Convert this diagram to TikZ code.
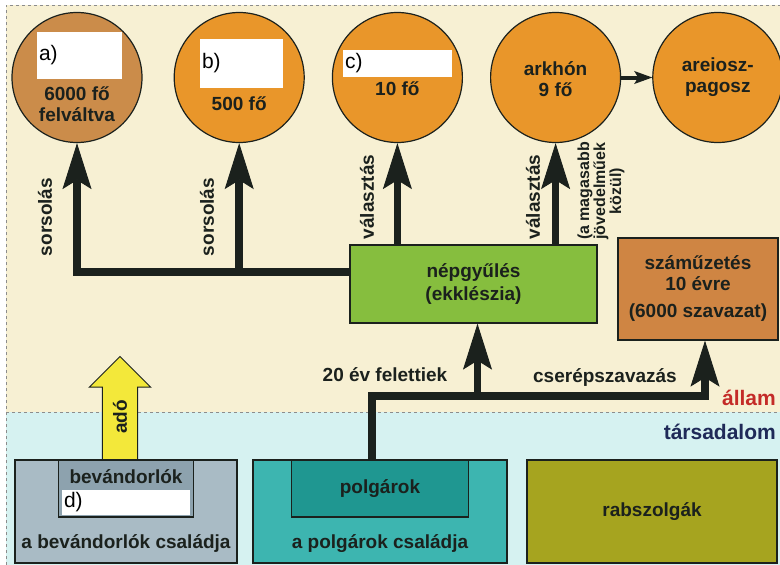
\documentclass[tikz,border=0pt]{standalone}
\usepackage{fontspec}
\setmainfont{Liberation Sans}
\usepackage{xcolor}
\usepackage{tikz}
\usetikzlibrary{positioning,calc,arrows.meta,shapes.arrows}

\definecolor{creamBg}{HTML}{F7F0D3}
\definecolor{cyanBg}{HTML}{D6F2F1}
\definecolor{circleBrown}{HTML}{CB8C4A}
\definecolor{circleOrange}{HTML}{E9962A}
\definecolor{assemblyGreen}{HTML}{86BE3E}
\definecolor{exileBrown}{HTML}{CF8543}
\definecolor{immFamily}{HTML}{A9BBC5}
\definecolor{immInner}{HTML}{8DA2AE}
\definecolor{citFamily}{HTML}{3DB5B0}
\definecolor{citInner}{HTML}{1F9791}
\definecolor{slaveOlive}{HTML}{A6A41F}
\definecolor{taxYellow}{HTML}{F3E83A}
\definecolor{arrowDark}{HTML}{1B211D}
\definecolor{stateRed}{HTML}{C42B28}
\definecolor{societyBlue}{HTML}{1F2A58}

\tikzset{
  bodyCircle/.style={
    circle,
    draw=arrowDark,
    line width=1.2pt,
    fill=circleOrange,
    minimum size=130pt,
    inner sep=0pt
  },
  boldText/.style={
    font=\bfseries\fontsize{19}{21}\selectfont,
    text=arrowDark,
    align=center,
    inner sep=0pt
  },
  answerBox/.style={
    rectangle,
    fill=white,
    inner xsep=2pt,
    inner ysep=0pt,
    align=left,
    font=\fontsize{21}{21}\selectfont
  },
  plainBox/.style={
    rectangle,
    draw=arrowDark,
    line width=1.2pt,
    inner sep=0pt
  },
  heavyArrow/.style={
    -{Stealth[length=46pt,width=29pt,inset=9pt,line width=1pt]},
    line width=7.5pt,
    draw=arrowDark
  },
  smallArrow/.style={
    -{Stealth[length=18pt,width=13pt,inset=4pt,line width=1pt]},
    line width=4pt,
    draw=arrowDark
  },
  taxArrow/.style={
    single arrow,
    draw=arrowDark,
    line width=1pt,
    fill=taxYellow,
    minimum height=103pt,
    minimum width=60pt,
    single arrow head extend=13pt,
    single arrow head indent=0pt,
    inner xsep=0pt,
    inner ysep=10pt,
    font=\bfseries\fontsize{19}{21}\selectfont,
    text=arrowDark
  },
  borderLine/.style={
    draw=black!45,
    line width=0.8pt,
    dashed
  }
}

\begin{document}
\begin{tikzpicture}[x=1pt,y=-1pt]
        \useasboundingbox (0,0) rectangle (780,565);
        \fill[creamBg] (6,5) rectangle (780,412);
        \fill[cyanBg] (6,412) rectangle (780,565);
        \draw[borderLine] (6,565) -- (6,5) -- (780,5);
        \draw[borderLine] (6,412) -- (780,412);

        \node[bodyCircle, fill=circleBrown] (heliaia) at (77,77.5) {};
        \node[bodyCircle, right=31pt of heliaia] (bule) {};
        \node[bodyCircle, right=27pt of bule] (sztrategosz) {};
        \node[bodyCircle, right=27pt of sztrategosz] (arkhon) {};
        \node[bodyCircle, right=31pt of arkhon] (areiosz) {};

        \node[answerBox, text width=81pt, minimum height=47pt] (ansA) at (79.5,55.5) {a)};
        \node[answerBox, text width=79pt, minimum height=49pt] (ansB) at (241.5,63.5) {b)};
        \node[answerBox, text width=105pt, minimum height=27pt] (ansC) at (397.5,63.5) {c)};

        \node[boldText] at ([yshift=-27pt]heliaia.center) {6000 fő\\felváltva};
        \node[boldText] at ([yshift=-26pt]bule.center) {500 fő};
        \node[boldText] at ([yshift=-11pt]sztrategosz.center) {10 fő};
        \node[boldText] at ([yshift=-2pt]arkhon.center) {arkhón\\9 fő};
        \node[boldText] at (areiosz.center) {areiosz-\\pagosz};

        \draw[smallArrow] (arkhon) -- (areiosz);

        \node[plainBox, fill=assemblyGreen, minimum width=247pt, minimum height=78pt, boldText, font=\bfseries\fontsize{19}{23}\selectfont] (nepgyules) at (473.5,284) {népgyűlés\\(ekklészia)};
        \node[plainBox, fill=exileBrown, minimum width=160pt, minimum height=102pt, boldText] (szamuzetes) at (698,289) {száműzetés\\10 évre\\[6pt](6000 szavazat)};

        \coordinate (nepLine) at ([yshift=12pt]nepgyules.west);
        \draw[heavyArrow] (nepLine) -| (heliaia.south);
        \draw[heavyArrow] (bule.south |- nepLine) -- (bule.south);
        \draw[heavyArrow] (sztrategosz.south |- nepgyules.north) -- (sztrategosz.south);
        \draw[heavyArrow] (arkhon.south |- nepgyules.north) -- (arkhon.south);

        \node[boldText, rotate=90] at (45,217) {sorsolás};
        \node[boldText, rotate=90] at (207,217) {sorsolás};
        \node[boldText, rotate=90] at (367,197) {választás};
        \node[boldText, rotate=90] at (533,197) {választás};
        \node[boldText, rotate=90, font=\bfseries\fontsize{16}{14.5}\selectfont] at (601,191) {(a magasabb\\jövedelműek\\közül)};

        \node[plainBox, fill=immFamily, minimum width=222pt, minimum height=103pt] (bevCsalad) at (126,511.5) {};
        \node[plainBox, fill=immInner, minimum width=135pt, minimum height=57pt, anchor=north] (bevandorlok) at (bevCsalad.north) {};
        \node[boldText] at ([yshift=-17pt]bevandorlok.north) {bevándorlók};
        \node[answerBox, text width=124pt, minimum height=25pt] (ansD) at (126,502.5) {d)};
        \node[boldText] at ([yshift=20pt]bevCsalad.south) {a bevándorlók családja};

        \node[plainBox, fill=citFamily, minimum width=254pt, minimum height=103pt] (polgCsalad) at (380,511.5) {};
        \node[plainBox, fill=citInner, minimum width=177pt, minimum height=57pt, anchor=north] (polgarok) at (polgCsalad.north) {};
        \node[boldText] at (polgarok) {polgárok};
        \node[boldText] at ([yshift=20pt]polgCsalad.south) {a polgárok családja};

        \node[plainBox, fill=slaveOlive, minimum width=250pt, minimum height=103pt, boldText] (rabszolgak) at (652,511.5) {rabszolgák};

        \node[taxArrow, rotate=90, anchor=tail] (ado) at (120,460) {adó};

        \coordinate (elbow) at (372,396);
        \draw[heavyArrow] ([xshift=-8pt]polgarok.north) -- (elbow) -| ([xshift=7pt]szamuzetes.south);
        \draw[heavyArrow] ([xshift=4pt]nepgyules.south |- elbow) -- ([xshift=4pt]nepgyules.south);

        \node[boldText] at (385,375) {20 év felettiek};
        \node[boldText] at (605,377) {cserépszavazás};
        \node[boldText, text=stateRed, anchor=east, font=\bfseries\fontsize{21}{23}\selectfont] at (776,398) {állam};
        \node[boldText, text=societyBlue, anchor=east, font=\bfseries\fontsize{21}{23}\selectfont] at (776,432) {társadalom};
\end{tikzpicture}
\end{document}
